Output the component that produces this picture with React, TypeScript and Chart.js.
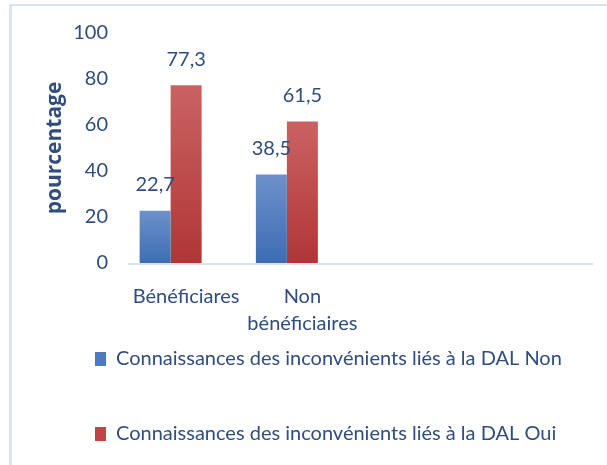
import React, { useEffect, useRef } from "react";
import { Chart, registerables } from "chart.js";

Chart.register(...registerables);

const categories: (string | string[])[] = ["Bénéficiares", ["Non", "bénéficiaires"], "", ""];
const seriesNames = [
  "Connaissances des inconvénients liés à la DAL Non",
  "Connaissances des inconvénients liés à la DAL Oui",
];
const nonValues: (number | null)[] = [22.7, 38.5, null, null];
const ouiValues: (number | null)[] = [77.3, 61.5, null, null];
const emptySeriesValues: (number | null)[] = [null, null, null, null];
const yTicks = [0, 20, 40, 60, 80, 100];
const yTitle = "pourcentage";

const TEXT = "#2f4d80";
const FONT = "Lato, 'Open Sans', sans-serif";
const solid = ["#4f7bbe", "#c04444"];
const gradStops = [
  ["#6d91c9", "#3c6db3"],
  ["#ca6262", "#b13636"],
];

function barGradient(idx: number) {
  return (ctx: any) => {
    const chart = ctx.chart;
    const area = chart.chartArea;
    if (!area || ctx.raw == null || ctx.type !== "data") return solid[idx];
    const y = chart.scales.y;
    const top = y.getPixelForValue(ctx.raw);
    const bottom = y.getPixelForValue(0);
    const g = chart.ctx.createLinearGradient(0, top, 0, bottom);
    g.addColorStop(0, gradStops[idx][0]);
    g.addColorStop(1, gradStops[idx][1]);
    return g;
  };
}

const valueLabels = {
  id: "valueLabels",
  afterDatasetsDraw(chart: any) {
    const ctx = chart.ctx;
    ctx.save();
    ctx.font = `20px ${FONT}`;
    ctx.fillStyle = TEXT;
    ctx.textAlign = "center";
    ctx.textBaseline = "middle";
    [0, 1].forEach((di) => {
      const meta = chart.getDatasetMeta(di);
      meta.data.forEach((el: any, i: number) => {
        const v = chart.data.datasets[di].data[i];
        if (v == null) return;
        ctx.fillText(String(v).replace(".", ","), el.x, el.y - 26);
      });
    });
    ctx.restore();
  },
};

const axisLine = {
  id: "axisLine",
  afterDatasetsDraw(chart: any) {
    const { ctx, chartArea } = chart;
    ctx.save();
    ctx.strokeStyle = "#d9e2f0";
    ctx.lineWidth = 2;
    ctx.beginPath();
    ctx.moveTo(chartArea.left, chartArea.bottom + 1);
    ctx.lineTo(chartArea.right, chartArea.bottom + 1);
    ctx.stroke();
    ctx.restore();
  },
};

export default function App() {
  const ref = useRef<HTMLCanvasElement | null>(null);
  useEffect(() => {
    if (!ref.current) return;
    const chart = new Chart(ref.current, {
      type: "bar",
      data: {
        labels: categories as any,
        datasets: [
          {
            label: seriesNames[0],
            data: nonValues,
            backgroundColor: barGradient(0),
            categoryPercentage: 0.8,
            barPercentage: 1,
          },
          {
            label: seriesNames[1],
            data: ouiValues,
            backgroundColor: barGradient(1),
            categoryPercentage: 0.8,
            barPercentage: 1,
          },
          {
            label: "",
            data: emptySeriesValues,
            backgroundColor: "rgba(0,0,0,0)",
            categoryPercentage: 0.8,
            barPercentage: 1,
          },
        ],
      },
      options: {
        animation: false,
        responsive: false,
        maintainAspectRatio: false,
        layout: { padding: { left: 40, right: 14, top: 33, bottom: 11 } },
        plugins: {
          tooltip: { enabled: false },
          legend: {
            position: "bottom",
            align: "start",
            labels: {
              color: TEXT,
              font: { family: FONT, size: 20 },
              boxWidth: 11,
              boxHeight: 14,
              padding: 55,
              generateLabels: (c: any) =>
                Chart.defaults.plugins.legend.labels
                  .generateLabels(c)
                  .filter((l: any) => l.datasetIndex < 2)
                  .map((l: any) => ({
                    ...l,
                    fillStyle: solid[l.datasetIndex],
                    strokeStyle: solid[l.datasetIndex],
                    lineWidth: 0,
                  })),
            },
          },
        },
        scales: {
          x: {
            grid: { display: false, drawTicks: false },
            border: { display: false },
            ticks: {
              color: TEXT,
              font: { family: FONT, size: 20, lineHeight: 1.35 },
              padding: 20,
              maxRotation: 0,
              autoSkip: false,
            },
            afterFit: (s: any) => {
              s.height = 31;
              s._computeLabelArea = () => undefined;
            },
          },
          y: {
            min: 0,
            max: 100,
            grid: { display: false, drawTicks: false },
            border: { display: false },
            afterBuildTicks: (s: any) => {
              s.ticks = yTicks.map((v) => ({ value: v }));
            },
            ticks: {
              color: TEXT,
              font: { family: FONT, size: 20 },
              padding: 20,
            },
            title: {
              display: true,
              text: yTitle,
              color: TEXT,
              font: { family: "'Open Sans', sans-serif", size: 21, weight: "bold" },
              padding: { top: 2, bottom: 0 },
            },
            afterFit: (s: any) => {
              s.width = 88;
            },
          },
        },
      },
      plugins: [valueLabels, axisLine],
    });
    return () => chart.destroy();
  }, []);

  return (
    <div style={{ position: "absolute", left: 0, top: 0, width: 607, height: 465, overflow: "hidden", background: "#fff" }}>
      <canvas ref={ref} width={607} height={465} style={{ position: "absolute", left: 0, top: 0, width: 607, height: 465 }} />
      <div
        style={{
          position: "absolute",
          left: 9,
          top: 4,
          width: 620,
          height: 480,
          borderLeft: "3px solid #dae3f2",
          borderTop: "2px solid #dae3f2",
          pointerEvents: "none",
        }}
      />
    </div>
  );
}
